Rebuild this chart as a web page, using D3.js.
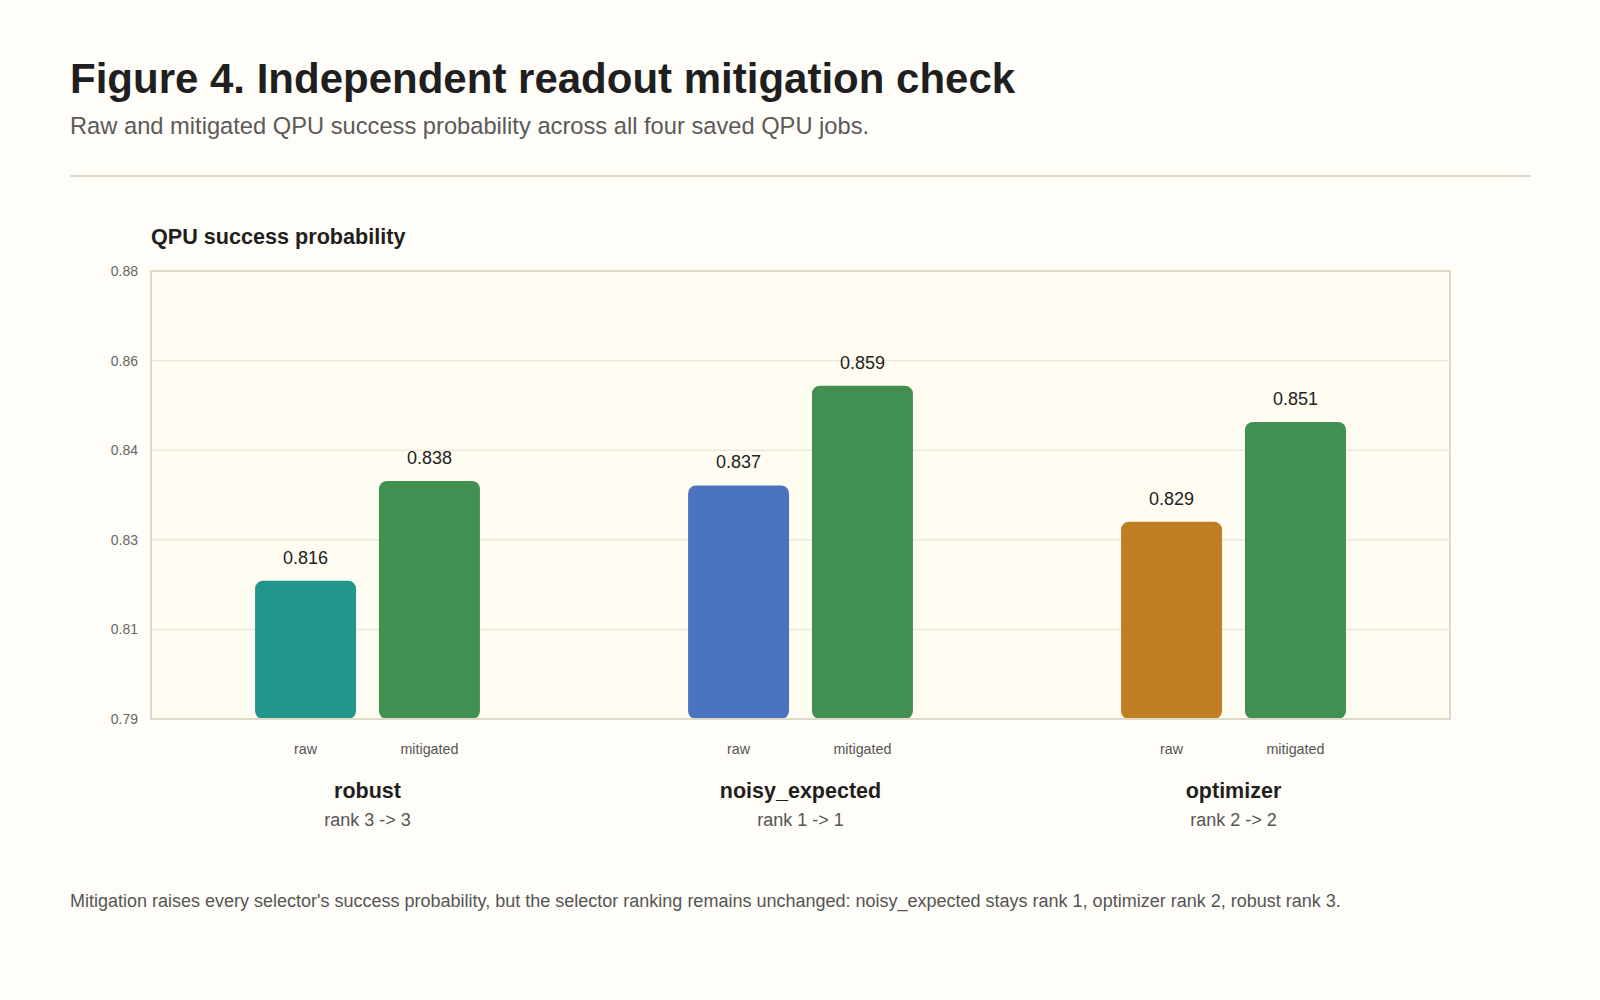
<!DOCTYPE html>
<html>
<head>
<meta charset="utf-8">
<script src="https://cdn.jsdelivr.net/npm/d3@7"></script>
<style>
    body { margin: 0; background: #fffdf7; }
    text { font-family: "Liberation Sans", Arial, sans-serif; }
</style>
</head>
<body>
<div id="chart"></div>
<script>

// data
var selectors = ["robust", "noisy_expected", "optimizer"];
var rankNotes = ["rank 3 -> 3", "rank 1 -> 1", "rank 2 -> 2"];
var conditions = ["raw", "mitigated"];
var rawValues = [0.816, 0.837, 0.829];
var mitigatedValues = [0.838, 0.859, 0.851];
var rawColours = ["#21968a", "#4a74c0", "#c07e22"];
var mitigatedColour = "#418f51";

var svgWidth = 1600, svgHeight = 1000;
var margin = {top: 271, right: 150, bottom: 281, left: 151};
var width = svgWidth - margin.left - margin.right;
var height = svgHeight - margin.top - margin.bottom;

var svg = d3.select("#chart").append("svg")
    .attr("width", svgWidth).attr("height", svgHeight);

svg.append("rect").attr("width", svgWidth).attr("height", svgHeight).attr("fill", "#fffdf7");

// heading
svg.append("text")
    .attr("x", 70).attr("y", 93)
    .attr("font-size", "42px").attr("font-weight", "bold")
    .style("fill", "#1f1f1f")
    .text("Figure 4. Independent readout mitigation check");
svg.append("text")
    .attr("x", 70).attr("y", 134)
    .attr("font-size", "23.7px")
    .style("fill", "#5a5a5a")
    .text("Raw and mitigated QPU success probability across all four saved QPU jobs.");
svg.append("line")
    .attr("x1", 70).attr("x2", 1531).attr("y1", 176).attr("y2", 176)
    .attr("stroke", "#dcd9c8").attr("stroke-width", 2);

svg.append("text")
    .attr("x", margin.left).attr("y", 244)
    .attr("font-size", "21.6px").attr("font-weight", "bold")
    .style("fill", "#1f1f1f")
    .text("QPU success probability");

var g = svg.append("g")
    .attr("transform", "translate(" + margin.left + " " + margin.top + ")");

// scales
var yDomain = [0.7855, 0.8843];
var y = d3.scaleLinear().domain(yDomain).range([height, 0]);
var yTicks = d3.range(6).map(function(i) { return yDomain[0] + i * (yDomain[1] - yDomain[0]) / 5; });

var x0 = d3.scaleBand().domain(selectors).range([0, width]).padding(0);
var x1 = d3.scaleBand().domain(conditions).range([0, x0.bandwidth()])
    .paddingInner(0.185).paddingOuter(0.84);

// plot panel
g.append("rect")
    .attr("width", width).attr("height", height)
    .attr("fill", "#fffcf2");

g.selectAll(".grid")
    .data(yTicks.slice(1, -1))
    .enter().append("line")
        .attr("class", "grid")
        .attr("x1", 0).attr("x2", width)
        .attr("y1", function(d) { return y(d); })
        .attr("y2", function(d) { return y(d); })
        .attr("stroke", "#ece8d9").attr("stroke-width", 1.5);

var yAxis = g.append("g")
    .call(d3.axisLeft(y).tickValues(yTicks).tickFormat(d3.format(".2f")).tickSize(0).tickPadding(13));
yAxis.select(".domain").remove();
yAxis.selectAll("text")
    .attr("font-size", "14px")
    .style("fill", "#666");

// bars
var rows = [];
selectors.forEach(function(s, i) {
    rows.push({sel: s, cond: "raw", value: rawValues[i], colour: rawColours[i]});
    rows.push({sel: s, cond: "mitigated", value: mitigatedValues[i], colour: mitigatedColour});
});

g.selectAll(".bar")
    .data(rows)
    .enter().append("rect")
        .attr("class", "bar")
        .attr("x", function(d) { return x0(d.sel) + x1(d.cond); })
        .attr("y", function(d) { return y(d.value); })
        .attr("width", x1.bandwidth())
        .attr("height", function(d) { return height - y(d.value); })
        .attr("rx", 8).attr("ry", 8)
        .attr("fill", function(d) { return d.colour; });

g.selectAll(".value")
    .data(rows)
    .enter().append("text")
        .attr("class", "value")
        .attr("text-anchor", "middle")
        .attr("x", function(d) { return x0(d.sel) + x1(d.cond) + x1.bandwidth() / 2; })
        .attr("y", function(d) { return y(d.value) - 17; })
        .attr("font-size", "18px")
        .style("fill", "#222")
        .text(function(d) { return d3.format(".3f")(d.value); });

// frame on top
g.append("rect")
    .attr("width", width).attr("height", height)
    .attr("fill", "none")
    .attr("stroke", "#dedac8").attr("stroke-width", 2);

// category labels
g.selectAll(".cond")
    .data(rows)
    .enter().append("text")
        .attr("class", "cond")
        .attr("text-anchor", "middle")
        .attr("x", function(d) { return x0(d.sel) + x1(d.cond) + x1.bandwidth() / 2; })
        .attr("y", height + 35)
        .attr("font-size", "14.3px")
        .style("fill", "#555")
        .text(function(d) { return d.cond; });

var groups = g.selectAll(".group")
    .data(selectors)
    .enter().append("g")
        .attr("class", "group")
        .attr("transform", function(d) { return "translate(" + (x0(d) + x0.bandwidth() / 2) + " " + height + ")"; });
groups.append("text")
    .attr("text-anchor", "middle").attr("y", 79)
    .attr("font-size", "21.5px").attr("font-weight", "bold")
    .style("fill", "#1f1f1f")
    .text(function(d) { return d; });
groups.append("text")
    .attr("text-anchor", "middle").attr("y", 107)
    .attr("font-size", "18px")
    .style("fill", "#555")
    .text(function(d, i) { return rankNotes[i]; });

// footnote
svg.append("text")
    .attr("x", 70).attr("y", 907)
    .attr("font-size", "18px")
    .style("fill", "#555")
    .text("Mitigation raises every selector's success probability, but the selector ranking remains unchanged: noisy_expected stays rank 1, optimizer rank 2, robust rank 3.");

</script>
</body>
</html>
